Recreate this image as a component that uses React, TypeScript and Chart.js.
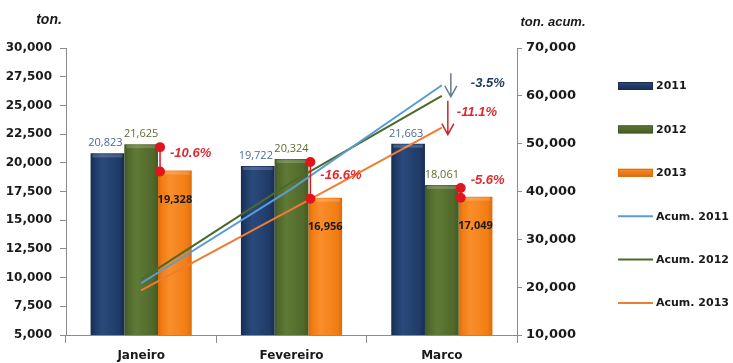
import React, { useEffect, useRef } from 'react';
import { Chart, registerables } from 'chart.js';
Chart.register(...registerables);

const categories = ['Janeiro', 'Fevereiro', 'Marco'];
const tons2011 = [20823, 19722, 21663];
const tons2012 = [21625, 20324, 18061];
const tons2013 = [19328, 16956, 17049];
const acum2011 = [20823, 40545, 62208];
const acum2012 = [21625, 41949, 60010];
const acum2013 = [19328, 36284, 53333];
const seriesLabels = ['2011', '2012', '2013', 'Acum. 2011', 'Acum. 2012', 'Acum. 2013'];

const barColors = ['#1F3A66', '#51692B', '#F27D14'];
const barEdge = ['#172d52', '#435a22', '#dc6c0c'];
const barLight = ['#2a4a7c', '#5f7a36', '#f98e2a'];
const lineColors = ['#5B9BD5', '#4A6A2A', '#ED7D31'];

const fmt = (v: number) => v.toLocaleString('en-US');
const pct = (a: number, b: number) => ((b / a - 1) * 100).toFixed(1) + '%';

const gradientPlugin = {
  id: 'barGradient',
  beforeDatasetsDraw(chart: any) {
    const ctx = chart.ctx;
    [0, 1, 2].forEach((di) => {
      const meta = chart.getDatasetMeta(di);
      meta.data.forEach((el: any) => {
        const x = el.x, w = el.width;
        const g = ctx.createLinearGradient(x - w / 2, 0, x + w / 2, 0);
        g.addColorStop(0, barEdge[di]);
        g.addColorStop(0.12, barColors[di]);
        g.addColorStop(0.35, barLight[di]);
        g.addColorStop(0.85, barColors[di]);
        g.addColorStop(1, barEdge[di]);
        el.options = { ...el.options, backgroundColor: g };
      });
    });
  },
};

const annotPlugin = {
  id: 'annot',
  afterDatasetsDraw(chart: any) {
    const ctx = chart.ctx;
    const ys = chart.scales.y;
    const y1 = chart.scales.y1;
    const xs = chart.scales.x;
    const m0 = chart.getDatasetMeta(0);
    const m1 = chart.getDatasetMeta(1);
    const m2 = chart.getDatasetMeta(2);
    ctx.save();
    // top highlight bevel on bars
    [m0, m1, m2].forEach((m: any) => {
      m.data.forEach((el: any) => {
        ctx.fillStyle = 'rgba(255,255,255,0.18)';
        ctx.fillRect(el.x - el.width / 2 + 2, el.y + 1, el.width - 4, 3);
      });
    });
    ctx.textAlign = 'center';
    ctx.textBaseline = 'middle';
    ctx.font = '11px "Open Sans"';
    m0.data.forEach((el: any, i: number) => {
      ctx.fillStyle = '#4a6a98';
      ctx.fillText(fmt(tons2011[i]), el.x - 2, el.y - 10);
    });
    m1.data.forEach((el: any, i: number) => {
      ctx.fillStyle = '#5c6b32';
      ctx.fillText(fmt(tons2012[i]), el.x, el.y - 10);
    });
    ctx.font = 'bold 11px "Open Sans"';
    m2.data.forEach((el: any, i: number) => {
      ctx.fillStyle = '#1a1a1a';
      ctx.fillText(fmt(tons2013[i]), el.x, el.y + 29);
    });

    // dumbbells 2012 -> 2013
    const dy = [-6, -5, -12];
    m2.data.forEach((el: any, i: number) => {
      const dx = el.x - el.width / 2 + 2;
      const yu = ys.getPixelForValue(tons2012[i]) + 3;
      const yl = ys.getPixelForValue(tons2013[i]) + 1;
      ctx.strokeStyle = '#e3151c';
      ctx.lineWidth = 1.5;
      ctx.beginPath();
      ctx.moveTo(dx, yu);
      ctx.lineTo(dx, yl);
      ctx.stroke();
      ctx.fillStyle = '#e3151c';
      [yu, yl].forEach((yy) => {
        ctx.beginPath();
        ctx.arc(dx, yy, 5, 0, Math.PI * 2);
        ctx.fill();
      });
      ctx.font = 'italic bold 13px "Liberation Sans"';
      ctx.textAlign = 'left';
      ctx.fillStyle = '#e0282e';
      ctx.fillText(pct(tons2012[i], tons2013[i]), dx + 10, (yu + yl) / 2 + dy[i]);
    });

    // accumulated arrows at last category
    const last = categories.length - 1;
    const xm = xs.getPixelForValue(last);
    const a11 = y1.getPixelForValue(acum2011[last]);
    const a12 = y1.getPixelForValue(acum2012[last]);
    const a13 = y1.getPixelForValue(acum2013[last]);
    const arrow = (x: number, yA: number, yB: number, color: string) => {
      ctx.strokeStyle = color;
      ctx.lineWidth = 1.5;
      ctx.beginPath();
      ctx.moveTo(x, yA);
      ctx.lineTo(x, yB);
      ctx.moveTo(x - 6, yB - 11);
      ctx.lineTo(x, yB);
      ctx.lineTo(x + 6, yB - 11);
      ctx.stroke();
    };
    arrow(xm + 9, a11 - 12, a12 + 1, '#6a7a8a');
    arrow(xm + 6, a12 + 5, a13 + 7, '#c8262c');
    ctx.font = 'italic bold 13px "Liberation Sans"';
    ctx.textAlign = 'left';
    ctx.fillStyle = '#1f3a60';
    ctx.fillText(pct(acum2011[last], acum2012[last]), xm + 29, a11 - 2);
    ctx.fillStyle = '#e0282e';
    ctx.fillText(pct(acum2012[last], acum2013[last]), xm + 15, a12 + 17);
    ctx.restore();
  },
  afterDraw(chart: any) {
    const ctx = chart.ctx;
    const ca = chart.chartArea;
    ctx.save();
    // axis titles
    ctx.font = 'italic bold 14px "Liberation Sans"';
    ctx.fillStyle = '#1a1a1a';
    ctx.textAlign = 'center';
    ctx.textBaseline = 'middle';
    ctx.fillText('ton.', ca.left - 17, ca.top - 28);
    ctx.font = 'italic bold 13px "Liberation Sans"';
    ctx.fillText('ton. acum.', ca.right + 36, ca.top - 26);
    // legend
    const spacing = 43.4;
    const cy = (ca.top + ca.bottom) / 2;
    const y0 = cy - spacing * 2.5 + 3;
    const lx = 618;
    ctx.font = 'bold 11px "DejaVu Sans"';
    ctx.textAlign = 'left';
    seriesLabels.forEach((lab, i) => {
      const yy = y0 + i * spacing;
      if (i < 3) {
        const g = ctx.createLinearGradient(0, yy - 4, 0, yy + 4);
        g.addColorStop(0, barLight[i]);
        g.addColorStop(1, barEdge[i]);
        ctx.fillStyle = g;
        ctx.fillRect(lx, yy - 4, 35, 8);
        ctx.strokeStyle = barEdge[i];
        ctx.lineWidth = 1;
        ctx.strokeRect(lx + 0.5, yy - 3.5, 34, 7);
      } else {
        ctx.strokeStyle = lineColors[i - 3];
        ctx.lineWidth = 2;
        ctx.beginPath();
        ctx.moveTo(lx, yy);
        ctx.lineTo(lx + 35, yy);
        ctx.stroke();
      }
      ctx.fillStyle = '#1a1a1a';
      ctx.fillText(lab, lx + 38, yy + 0.5);
    });
    ctx.restore();
  },
};

export default function App() {
  const ref = useRef<HTMLCanvasElement>(null);
  useEffect(() => {
    if (!ref.current) return;
    const tickFont = { family: '"DejaVu Sans"', size: 12, weight: 'bold' as const };
    const rightFont = { family: '"DejaVu Sans"', size: 13, weight: 'bold' as const };
    const chart = new Chart(ref.current, {
      type: 'bar',
      data: {
        labels: categories,
        datasets: [
          { type: 'bar', label: seriesLabels[0], data: tons2011, backgroundColor: barColors[0], yAxisID: 'y', order: 1 },
          { type: 'bar', label: seriesLabels[1], data: tons2012, backgroundColor: barColors[1], yAxisID: 'y', order: 1 },
          { type: 'bar', label: seriesLabels[2], data: tons2013, backgroundColor: barColors[2], yAxisID: 'y', order: 1 },
          { type: 'line', label: seriesLabels[3], data: acum2011, borderColor: lineColors[0], borderWidth: 2, pointRadius: 0, yAxisID: 'y1', order: 0 },
          { type: 'line', label: seriesLabels[4], data: acum2012, borderColor: lineColors[1], borderWidth: 2, pointRadius: 0, yAxisID: 'y1', order: 0 },
          { type: 'line', label: seriesLabels[5], data: acum2013, borderColor: lineColors[2], borderWidth: 2, pointRadius: 0, yAxisID: 'y1', order: 0 },
        ] as any,
      },
      options: {
        animation: false,
        responsive: false,
        devicePixelRatio: 1,
        layout: { padding: { top: 48, left: 0, right: 0, bottom: 0 } },
        datasets: { bar: { categoryPercentage: 0.673, barPercentage: 1 } },
        plugins: { legend: { display: false }, tooltip: { enabled: false } },
        scales: {
          x: {
            offset: true,
            grid: { display: true, drawOnChartArea: false, offset: true, tickLength: 8, color: '#8c8c8c' },
            border: { color: '#8c8c8c' },
            ticks: { font: tickFont, color: '#1a1a1a', padding: 6 },
            afterFit: (s: any) => { s.height = 28; },
          },
          y: {
            position: 'left',
            min: 5000,
            max: 30000,
            ticks: { stepSize: 2500, font: tickFont, color: '#1a1a1a', padding: 8, callback: (v: any) => fmt(Number(v)) },
            grid: { display: true, drawOnChartArea: false, tickLength: 6, color: '#8c8c8c' },
            border: { color: '#8c8c8c' },
            afterFit: (s: any) => { s.width = 66; },
          },
          y1: {
            position: 'right',
            min: 10000,
            max: 70000,
            ticks: { stepSize: 10000, font: rightFont, color: '#1a1a1a', padding: 4, callback: (v: any) => fmt(Number(v)) },
            grid: { display: true, drawOnChartArea: false, tickLength: 5, color: '#8c8c8c' },
            border: { color: '#8c8c8c' },
            afterFit: (s: any) => { s.width = 216; },
          },
        },
      } as any,
      plugins: [gradientPlugin, annotPlugin],
    });
    return () => chart.destroy();
  }, []);
  return (
    <div style={{ position: 'fixed', left: 0, top: 0, width: 733, height: 363, background: '#fff' }}>
      <canvas ref={ref} width={733} height={363} style={{ width: 733, height: 363, display: 'block' }} />
    </div>
  );
}
